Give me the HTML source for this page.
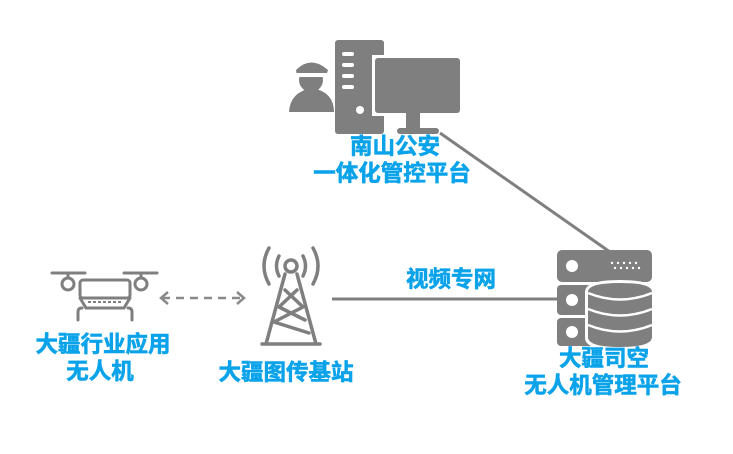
<!DOCTYPE html>
<html><head><meta charset="utf-8"><style>
body{margin:0;background:#fff;width:733px;height:454px;overflow:hidden}
svg{display:block}
text{font-family:"Liberation Sans","Noto Sans CJK SC",sans-serif;font-weight:bold;font-size:22.5px;fill:#0aa3ea;stroke:#0aa3ea;stroke-width:0.6;text-anchor:middle}
</style></head><body>
<svg width="733" height="454" viewBox="0 0 733 454">
<g fill="#7f7f7f" stroke="none">
<rect x="335" y="40" width="49" height="94" rx="3"/>
<g fill="#fff"><rect x="342" y="52" width="12" height="4" rx="2"/><rect x="342" y="63" width="12" height="4" rx="2"/><rect x="342" y="74" width="12" height="4" rx="2"/><rect x="342" y="85" width="12" height="4" rx="2"/><circle cx="360" cy="110" r="4"/></g>
<rect x="372" y="55" width="91" height="61" fill="#fff"/>
<rect x="375" y="58" width="85" height="55" rx="3"/>
<rect x="406" y="113" width="14" height="16"/>
<rect x="397" y="128" width="42" height="6" rx="3"/>
<path d="M289 112 Q290 92 312 88 Q334 92 334 112 Z"/>
<circle cx="311" cy="80" r="12"/>
<path d="M296 70 Q311 55 328 70 L326 76 L297 76 Z"/>
<rect x="296" y="73" width="31" height="4" fill="#fff"/>
</g>
<line x1="440" y1="133" x2="610" y2="252" stroke="#7f7f7f" stroke-width="3"/>
<line x1="332" y1="299" x2="558" y2="299" stroke="#7f7f7f" stroke-width="3"/>
<g fill="#7f7f7f">
<rect x="557" y="250" width="95" height="32" rx="5"/>
<rect x="557" y="285" width="40" height="30" rx="4"/>
<rect x="557" y="318" width="40" height="28" rx="4"/>
<g fill="#fff"><circle cx="572" cy="266" r="6"/><circle cx="572" cy="300" r="6"/><circle cx="572" cy="332" r="6"/>
<circle cx="612" cy="263" r="1.2"/><circle cx="618" cy="263" r="1.2"/><circle cx="624" cy="263" r="1.2"/><circle cx="630" cy="263" r="1.2"/><circle cx="636" cy="263" r="1.2"/><circle cx="615" cy="268" r="1.2"/><circle cx="621" cy="268" r="1.2"/><circle cx="627" cy="268" r="1.2"/><circle cx="633" cy="268" r="1.2"/><circle cx="639" cy="268" r="1.2"/></g>
<path d="M585 292 Q585 280 620 280 Q655 280 655 292 L655 338 Q655 350 620 350 Q585 350 585 338 Z" fill="#fff"/>
<path d="M588 292 Q588 283 620 283 Q652 283 652 292 L652 337 Q652 347 620 347 Q588 347 588 337 Z"/>
<g fill="none" stroke="#fff" stroke-width="2.5"><path d="M588 293 Q620 306 652 293"/><path d="M588 309 Q620 322 652 309"/><path d="M588 325 Q620 338 652 325"/></g>
</g>
<g fill="none" stroke="#7f7f7f" stroke-width="3" stroke-linecap="round">
<line x1="52" y1="273" x2="85" y2="273"/><line x1="124" y1="273" x2="157" y2="273"/>
<line x1="68" y1="273" x2="68" y2="278"/><line x1="141" y1="273" x2="141" y2="278"/>
<circle cx="68" cy="284" r="6"/><circle cx="141" cy="284" r="6"/>
<rect x="80" y="280" width="50" height="18" rx="3"/>
<path d="M80 298 L86 308 L124 308 L130 298"/>
<path d="M78 320 L78 312 Q78 308 82 308 M132 320 L132 312 Q132 308 128 308"/>
</g>
<g stroke="#7f7f7f" stroke-width="2" stroke-dasharray="3 2"><line x1="88" y1="302" x2="122" y2="302"/></g>
<g fill="none" stroke="#8a8a8a" stroke-width="2.5">
<line x1="162" y1="298" x2="243" y2="298" stroke-dasharray="8 6"/>
<path d="M168 292 L161 298 L168 304 M237 292 L244 298 L237 304"/>
</g>
<g fill="none" stroke="#7f7f7f" stroke-width="3.5" stroke-linecap="round">
<circle cx="291" cy="266" r="6"/>
<path d="M279 256 Q274 266 279 276 M303 256 Q308 266 303 276"/>
<path d="M269 248 Q259 266 269 284 M313 248 Q323 266 313 284"/>
<path d="M285 274 L266 344 M297 274 L316 344 M262 344 L320 344"/>
<path d="M285 290 L303 307 L274 322 L309 333 M297 290 L279 307 L305 320"/>
</g>
<text x="451" y="287">视频专网</text>
<text x="395" y="154">南山公安</text>
<text x="392" y="181">一体化管控平台</text>
<text x="103" y="352">大疆行业应用</text>
<text x="100" y="379">无人机</text>
<text x="286" y="380">大疆图传基站</text>
<text x="604" y="366">大疆司空</text>
<text x="603" y="393">无人机管理平台</text>
</svg>
</body></html>
